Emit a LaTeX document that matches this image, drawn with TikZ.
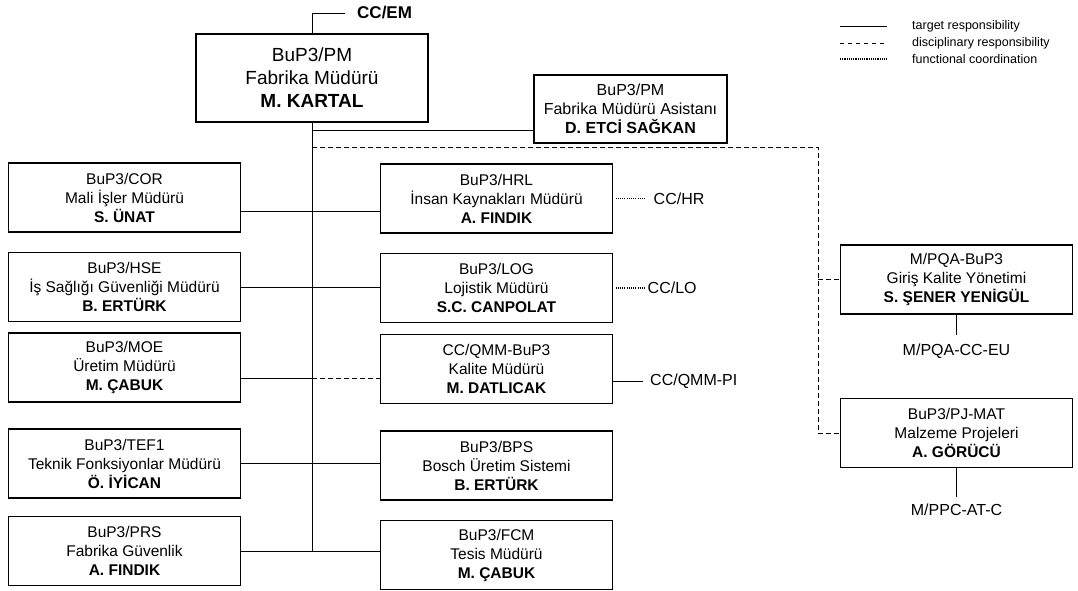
\documentclass[tikz,border=0pt]{standalone}
\usepackage{fontspec}
\setmainfont{Liberation Sans}
\usepackage{tikz}
\usetikzlibrary{positioning}
\tikzstyle{signal}=[draw=black,line width=1pt]
\tikzstyle{disc}=[style=signal, dash pattern=on 5pt off 3pt]
\tikzstyle{func}=[style=signal, line width=1.6pt, dash pattern=on 1.1pt off 1.1pt]
\tikzstyle{block}=[draw=black,line width=1.2pt]
\def\unitwidth{232pt}
\def\unitheight{69pt}
\tikzstyle{unit}=[style=block, inner sep=0pt, outer sep=0pt,
    align=center, font=\fontsize{15.5}{19}\selectfont,
    minimum width=\unitwidth, minimum height=\unitheight]
\tikzstyle{head}=[style=unit, font=\fontsize{19}{23}\selectfont, minimum height=88pt]
\tikzstyle{aside}=[style=unit, font=\fontsize{16}{19}\selectfont,
    minimum width=193pt, minimum height=68pt]
\tikzstyle{ext}=[inner sep=0pt, font=\fontsize{16}{19}\selectfont]
\tikzstyle{legend}=[inner sep=0pt, anchor=west, font=\fontsize{12.5}{15}\selectfont]

\begin{document}
\begin{tikzpicture}[x=1pt, y=-1pt]
\useasboundingbox (0,0) rectangle (1078,590);
\node[head] (pm) at (312,78) {BuP3/PM\\Fabrika Müdürü\\\textbf{M. KARTAL}};
\node[aside] (asst) at (630.5,109) {BuP3/PM\\Fabrika Müdürü Asistanı\\\textbf{D. ETCİ SAĞKAN}};
\node[ext, font=\bfseries\fontsize{17}{19}\selectfont, anchor=west] (ccem) at (357,13) {CC/EM};

\node[unit] (cor) at (124.5,197.5) {BuP3/COR\\Mali İşler Müdürü\\\textbf{S. ÜNAT}};
\node[unit] (hse) at (124.5,287) {BuP3/HSE\\İş Sağlığı Güvenliği Müdürü\\\textbf{B. ERTÜRK}};
\node[unit] (moe) at (124.5,367.5) {BuP3/MOE\\Üretim Müdürü\\\textbf{M. ÇABUK}};
\node[unit] (tef) at (124.5,463.5) {BuP3/TEF1\\Teknik Fonksiyonlar Müdürü\\\textbf{Ö. İYİCAN}};
\node[unit] (prs) at (124.5,551) {BuP3/PRS\\Fabrika Güvenlik\\\textbf{A. FINDIK}};

\node[unit] (hrl) at (496.5,198.5) {BuP3/HRL\\İnsan Kaynakları Müdürü\\\textbf{A. FINDIK}};
\node[unit] (log) at (496.5,288) {BuP3/LOG\\Lojistik Müdürü\\\textbf{S.C. CANPOLAT}};
\node[unit] (qmm) at (496.5,369) {CC/QMM-BuP3\\Kalite Müdürü\\\textbf{M. DATLICAK}};
\node[unit] (bps) at (496.5,465.5) {BuP3/BPS\\Bosch Üretim Sistemi\\\textbf{B. ERTÜRK}};
\node[unit] (fcm) at (496.5,555) {BuP3/FCM\\Tesis Müdürü\\\textbf{M. ÇABUK}};

\node[unit] (pqa) at (956.5,279.5) {M/PQA-BuP3\\Giriş Kalite Yönetimi\\\textbf{S. ŞENER YENİGÜL}};
\node[unit] (pjmat) at (956.5,433) {BuP3/PJ-MAT\\Malzeme Projeleri\\\textbf{A. GÖRÜCÜ}};

\node[ext, right=41pt of hrl] (cchr) {CC/HR};
\node[ext, right=35pt of log] (cclo) {CC/LO};
\node[ext, anchor=west] (ccqmm) at (650,381) {CC/QMM-PI};
\node[ext, below=30pt of pqa] (pqacc) {M/PQA-CC-EU};
\node[ext, below=36pt of pjmat] (ppc) {M/PPC-AT-C};

\coordinate (dturn) at (818,147);
\coordinate (b1) at (0,211);
\coordinate (b3) at (0,378);

\draw[signal] (pm.north) |- ([xshift=-12pt]ccem.west);
\draw[signal] (pm.south) -- (pm.south |- prs.east);
\draw[signal] (pm.south |- 0,130) -- (asst.west |- 0,130);
\draw[disc] (pm.south |- dturn) -- (dturn) |- (pjmat.west);
\draw[disc] (dturn |- pqa.west) -- (pqa.west);

\draw[signal] (cor.east |- b1) -- (hrl.west |- b1);
\draw[signal] (hse.east) -- (hse.east -| log.west);
\draw[signal] (moe.east |- b3) -- (pm.south |- b3);
\draw[disc] (pm.south |- b3) -- (qmm.west |- b3);
\draw[signal] (tef.east) -- (tef.east -| bps.west);
\draw[signal] (prs.east) -- (prs.east -| fcm.west);

\draw[func] ([xshift=3pt]hrl.east) -- ([xshift=-8pt]cchr.west);
\draw[func] ([xshift=3pt]log.east) -- ([xshift=-2pt]cclo.west);
\draw[signal] (qmm.east |- ccqmm.west) -- ([xshift=-7pt]ccqmm.west);
\draw[signal] (pqa.south) -- ([yshift=9pt]pqacc.north);
\draw[signal] (pjmat.south) -- ([yshift=7pt]ppc.north);

\node[legend] (lgt) at (912,26) {target responsibility};
\node[legend] (lgd) at (912,43) {disciplinary responsibility};
\node[legend] (lgf) at (912,59) {functional coordination};
\draw[signal] ([xshift=-72pt]lgt.west) -- ([xshift=-25pt]lgt.west);
\draw[disc, dash pattern=on 4pt off 4pt] ([xshift=-72pt]lgd.west) -- ([xshift=-25pt]lgd.west);
\draw[func] ([xshift=-72pt]lgf.west) -- ([xshift=-25pt]lgf.west);
\end{tikzpicture}
\end{document}
